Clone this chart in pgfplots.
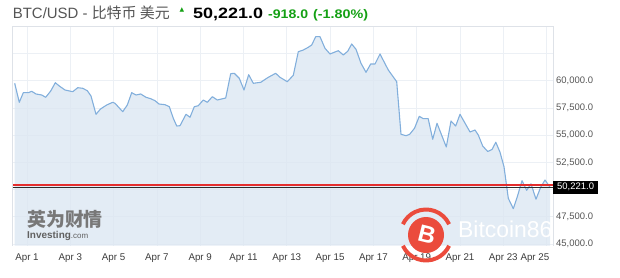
\documentclass[border=0pt]{standalone}
\usepackage{fontspec}
\setmainfont{Liberation Sans}
\newfontfamily\cjk{Noto Sans CJK SC}
\newfontfamily\dejavu{DejaVu Sans}
\usepackage{graphicx}
\usepackage{pgfplots}
\pgfplotsset{compat=1.18}

\definecolor{linec}{RGB}{130,175,220}
\definecolor{fillc}{RGB}{220,231,242}
\definecolor{gridc}{RGB}{236,240,245}
\definecolor{bordc}{RGB}{222,226,232}
\definecolor{xlab}{RGB}{60,60,60}
\definecolor{ylab}{RGB}{85,85,85}
\definecolor{titlegrey}{RGB}{85,85,85}
\definecolor{greenc}{RGB}{20,160,20}
\definecolor{pricered}{RGB}{228,45,45}
\definecolor{blackline}{RGB}{45,45,45}
\definecolor{logored}{RGB}{235,75,60}
\definecolor{logogrey}{RGB}{120,120,120}

\pgfplotstableread{
x y
0.432 59761
0.644 58017
0.829 58898
1.060 58898
1.217 59027
1.416 58779
1.679 58687
1.864 58476
2.095 59054
2.307 59816
2.492 59513
2.755 59146
3.111 58990
3.342 59357
3.573 59302
3.785 59082
3.956 58595
4.187 56916
4.395 57402
4.681 57769
4.958 58017
5.065 57925
5.420 57154
5.633 57769
5.836 58898
6.035 58687
6.252 58779
6.497 58476
6.714 58348
6.912 58164
7.097 57861
7.374 57797
7.573 57613
7.758 56548
7.915 55841
8.067 55869
8.344 56916
8.529 56640
8.727 57613
8.912 57705
9.143 58228
9.328 58017
9.559 58531
9.790 58228
10.178 58412
10.409 60643
10.575 60679
10.806 60220
11.023 59146
11.240 60551
11.453 59761
11.794 59853
12.146 60312
12.487 60679
12.686 60312
13.023 59908
13.300 60496
13.531 62662
13.762 62818
13.993 63066
14.150 63277
14.335 64039
14.533 64039
14.764 62974
14.995 62451
15.226 62635
15.379 62754
15.610 62359
15.813 62699
15.998 63369
16.196 62883
16.427 61597
16.658 60771
16.875 61533
17.074 61533
17.305 62451
17.688 60982
18.076 59908
18.275 55080
18.506 54951
18.677 55080
18.898 55630
19.120 56732
19.305 56512
19.531 56512
19.739 54621
19.938 56089
20.367 53914
20.584 56300
20.801 55841
21.000 56916
21.462 55291
21.693 55474
21.845 55015
22.048 54005
22.280 53501
22.478 53684
22.654 54354
22.848 53436
23.032 52105
23.231 49204
23.462 48250
23.647 49351
23.864 50820
24.081 49939
24.279 50535
24.510 49122
24.727 50223
24.926 50884
25.157 50221
}\btcdata

\begin{document}
\begin{tikzpicture}[x=1bp,y=1bp]
\useasboundingbox (0,0) rectangle (620,277);
\begin{axis}[
  at={(12bp,31.5bp)}, anchor=south west,
  scale only axis, width=541bp, height=219.5bp,
  xmin=0.307, xmax=25.296, ymin=44871, ymax=65021,
  clip mode=individual,
  scaled y ticks=false,
  axis line style={draw=none},
  xtick={1,3,...,25},
  xticklabels={Apr 1,Apr 3,Apr 5,Apr 7,Apr 9,Apr 11,Apr 13,Apr 15,Apr 17,Apr 19,Apr 21,Apr 23,{}},
  extra x ticks={24.46},
  extra x tick labels={Apr 25},
  extra x tick style={grid=none},
  ytick={45000,47500,...,62500},
  yticklabels={45{,}000.0,47{,}500.0,{},52{,}500.0,55{,}000.0,57{,}500.0,60{,}000.0,{}},
  yticklabel pos=right,
  major tick length=0pt,
  tick style={draw=none},
  grid=major,
  grid style={draw=gridc, line width=0.8bp},
  xticklabel style={font=\fontsize{9.8}{10}\selectfont, text=xlab, yshift=-5bp},
  yticklabel style={font=\fontsize{9.5}{10}\selectfont, text=ylab, anchor=west, inner sep=0pt, xshift=3bp},
]
\addplot[draw=none, fill=fillc, fill opacity=0.8] table[x=x,y=y] {\btcdata} \closedcycle;
\addplot[draw=linec, line width=1.1bp, line join=round] table[x=x,y=y] {\btcdata};
\addplot[color=blackline, line width=1.1bp] coordinates {(0.307,50221) (25.296,50221)};
\addplot[color=pricered, line width=1.5bp] coordinates {(0.307,50430) (25.296,50430)};
\draw[bordc, line width=0.8bp] (rel axis cs:0,0) -- (rel axis cs:0,1) -- (rel axis cs:1,1) -- (rel axis cs:1,0);
\node[fill=black, text=white, inner xsep=4bp, inner ysep=0pt, minimum height=13bp, anchor=west,
      font=\fontsize{9.5}{10}\selectfont] at (axis cs:25.296,50221) {50,221.0};
\end{axis}

% title
\node[anchor=base west, inner sep=0, text=titlegrey, font=\fontsize{15}{15}\selectfont]
  at (12.7,258.5) {BTC/USD - {\cjk 比特币 美元}};
\node[text=greenc, inner sep=0, font=\dejavu\fontsize{6}{6}\selectfont] at (182,267) {▲};
\node[anchor=base west, inner sep=0, text=black, font=\bfseries\fontsize{15}{15}\selectfont]
  at (193,258.5) {\scalebox{1.2}[1]{50,221.0}};
\node[anchor=base west, inner sep=0, text=greenc, font=\bfseries\fontsize{12.5}{12.5}\selectfont]
  at (268,258.5) {\scalebox{1.13}[1]{-918.0}};
\node[anchor=base west, inner sep=0, text=greenc, font=\bfseries\fontsize{12.5}{12.5}\selectfont]
  at (313,258.5) {\scalebox{1.15}[1]{(-1.80\%)}};

% investing watermark
\node[anchor=west, inner sep=0, text=logogrey, font=\cjk\bfseries\fontsize{19}{19}\selectfont]
  at (27,58) {英为财情};
\node[anchor=base west, inner sep=0, text=logogrey!80!black]
  at (27,39) {\fontsize{10}{10}\selectfont\bfseries Investing{\mdseries\fontsize{8}{8}\selectfont .com}};

% bitcoin86 watermark
\fill[logored] (426,42) circle (18);
\draw[logored, line width=4] (426,42) ++(25:25.5) arc (25:155:25.5);
\draw[logored, line width=4] (426,42) ++(205:25.5) arc (205:335:25.5);
\node[text=white, inner sep=0, rotate=-14, font=\bfseries\fontsize{24}{24}\selectfont] at (427,42) {B};
\begin{scope}
\clip (12,31.5) rectangle (553,251);
\node[anchor=base west, inner sep=0, text=white, font=\fontsize{23}{23}\selectfont] at (458,40) {Bitcoin86};
\end{scope}
\end{tikzpicture}
\end{document}
